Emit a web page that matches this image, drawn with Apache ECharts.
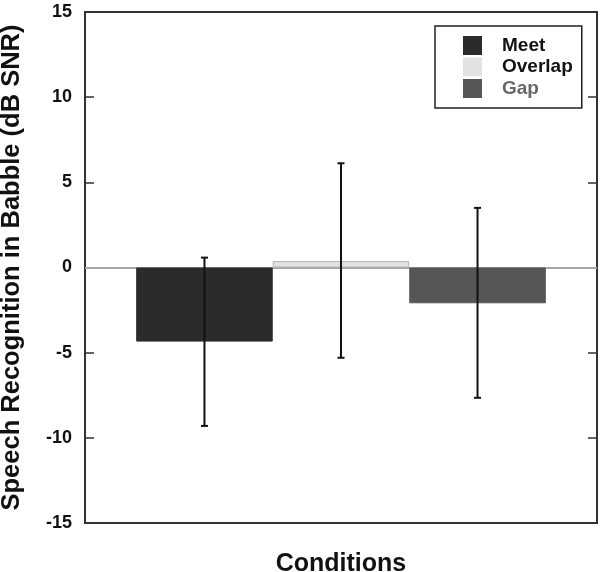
<!DOCTYPE html>
<html>
<head>
<meta charset="utf-8">
<script src="https://cdn.jsdelivr.net/npm/echarts@6/dist/echarts.min.js"></script>
<style>html,body{margin:0;padding:0;background:#fff}#c{width:600px;height:572px}</style>
</head>
<body>
<div id="c"></div>
<script>
var seriesNames = ['Meet', 'Overlap', 'Gap'];
var means = [-4.35, 0.38, -2.1];
var errLow = [-9.3, -5.3, -7.65];
var errHigh = [0.58, 6.12, 3.5];
var yTicks = [-15, -10, -5, 0, 5, 10, 15];
var colors = ['#2b2b2b', '#e2e2e2', '#565656'];
var categories = ['Conditions'];

var chart = echarts.init(document.getElementById('c'));
var font = 'Liberation Sans, Arial, sans-serif';

var series = seriesNames.map(function (n, i) {
  var s = {
    name: n, type: 'bar', xAxisIndex: 0, yAxisIndex: 0,
    data: [means[i]],
    barGap: '0%', barCategoryGap: '20%',
    itemStyle: { color: colors[i], borderColor: i === 1 ? '#b5b5b5' : colors[i], borderWidth: 1 },
    z: 3
  };
  if (i === 0) {
    s.markLine = {
      silent: true, symbol: 'none', label: { show: false },
      lineStyle: { color: '#cfcfcf', type: 'solid', width: 1.5 },
      data: [{ yAxis: 0 }], z: 1
    };
  }
  return s;
});

series.push({
  type: 'custom', xAxisIndex: 0, yAxisIndex: 0, z: 5,
  data: seriesNames.map(function (n, i) { return [0, errLow[i], errHigh[i], i]; }),
  renderItem: function (params, api) {
    var idx = api.value(3);
    var band = api.size([1, 0])[0];
    var bw = band * 0.8 / 3;
    var c = api.coord([0, 0])[0] + (idx - 1) * bw;
    var lo = api.coord([0, api.value(1)])[1];
    var hi = api.coord([0, api.value(2)])[1];
    var cap = 3.5;
    var st = { stroke: '#111', lineWidth: 2 };
    return {
      type: 'group', children: [
        { type: 'line', shape: { x1: c, y1: lo, x2: c, y2: hi }, style: st },
        { type: 'line', shape: { x1: c - cap, y1: lo, x2: c + cap, y2: lo }, style: st },
        { type: 'line', shape: { x1: c - cap, y1: hi, x2: c + cap, y2: hi }, style: st }
      ]
    };
  }
});

var axisLine = { show: true, lineStyle: { color: '#333', width: 2 } };

chart.setOption({
  animation: false,
  textStyle: { fontFamily: font },
  grid: { left: 85, right: 3, top: 12, bottom: 49, containLabel: false, outerBoundsMode: 'none',
          show: true, borderColor: '#333', borderWidth: 2, backgroundColor: 'transparent' },
  legend: {
    data: [
      { name: 'Meet', textStyle: { color: '#111' } },
      { name: 'Overlap', textStyle: { color: '#111' } },
      { name: 'Gap', textStyle: { color: '#666' } }
    ],
    orient: 'vertical', left: 435, top: 26,
    itemWidth: 19, itemHeight: 19, itemGap: 2.5,
    icon: 'rect',
    itemStyle: { borderWidth: 0 },
    padding: [10, 9, 10, 28],
    borderColor: '#222', borderWidth: 1.5, borderRadius: 0,
    textStyle: { fontFamily: font, fontWeight: 'bold', fontSize: 19, lineHeight: 19, padding: [0, 0, 0, 15] },
    selectedMode: false
  },
  xAxis: [
    {
      type: 'category', data: categories, position: 'bottom',
      axisLine: axisLine, axisTick: { show: false }, axisLabel: { show: false },
      splitLine: { show: false },
      name: 'Conditions', nameLocation: 'middle', nameGap: 29,
      nameTextStyle: { fontFamily: font, fontWeight: 'bold', fontSize: 25, color: '#111' }
    },
    {
      type: 'category', data: categories, position: 'top',
      axisLine: axisLine, axisTick: { show: false }, axisLabel: { show: false }
    }
  ],
  yAxis: [
    {
      type: 'value', min: -15, max: 15, interval: 5, position: 'left',
      axisLine: axisLine,
      axisTick: { show: true, inside: true, length: 9, lineStyle: { color: '#333', width: 1.5 } },
      axisLabel: {
        margin: 13, fontFamily: font, fontWeight: 'bold', fontSize: 18, color: '#111',
        formatter: function (v) { return yTicks.indexOf(v) >= 0 ? String(v) : ''; }
      },
      splitLine: { show: false },
      name: 'Speech Recognition in Babble (dB SNR)', nameLocation: 'middle', nameGap: 60,
      nameTextStyle: { fontFamily: font, fontWeight: 'bold', fontSize: 25.5, color: '#111' }
    },
    {
      type: 'value', min: -15, max: 15, interval: 5, position: 'right',
      axisLine: axisLine,
      axisTick: { show: true, inside: true, length: 9, lineStyle: { color: '#333', width: 1.5 } },
      axisLabel: { show: false }, splitLine: { show: false }
    }
  ],
  series: series
});
</script>
</body>
</html>
